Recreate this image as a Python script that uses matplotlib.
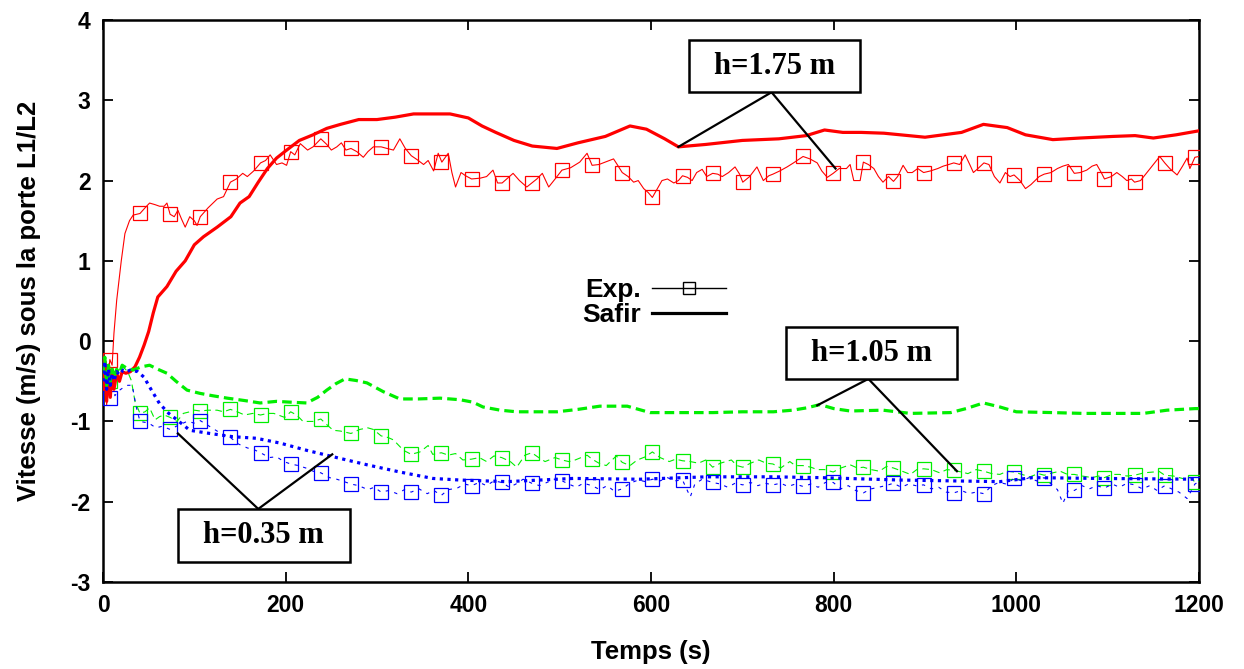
import matplotlib
matplotlib.use("Agg")
import matplotlib.pyplot as plt
from matplotlib.lines import Line2D
from matplotlib.patches import Rectangle

# ---------------- data ----------------
# Safir (simulation), h = 1.75 m
safir_175_t = [0, 2, 4, 6, 8, 10, 12, 15, 18, 21, 25, 30, 35, 40, 45, 50, 55, 60, 70, 80, 90, 100,
               110, 125, 140, 150, 160, 170, 180, 190, 200, 215, 230, 245, 260, 280, 300, 320, 340,
               360, 380, 400, 415, 430, 450, 470, 497, 520, 550, 577, 595, 615, 630, 660, 700, 740,
               770, 790, 810, 830, 855, 900, 940, 964, 990, 1010, 1040, 1070, 1106, 1130, 1150,
               1175, 1200]
safir_175_v = [-0.6, -0.25, -0.75, -0.3, -0.7, -0.35, -0.6, -0.4, -0.5, -0.38, -0.4, -0.38, -0.32,
               -0.2, -0.05, 0.12, 0.35, 0.55, 0.68, 0.87, 1.0, 1.2, 1.3, 1.42, 1.55, 1.72, 1.8, 1.98,
               2.15, 2.28, 2.37, 2.5, 2.57, 2.65, 2.7, 2.76, 2.76, 2.79, 2.83, 2.83, 2.83, 2.78, 2.68,
               2.6, 2.5, 2.43, 2.4, 2.47, 2.55, 2.68, 2.64, 2.52, 2.42, 2.45, 2.5, 2.52, 2.56, 2.63,
               2.6, 2.6, 2.59, 2.54, 2.6, 2.7, 2.66, 2.57, 2.51, 2.53, 2.55, 2.56, 2.53, 2.57, 2.62]

# Experiment, h = 1.75 m (continuous record)
exp_175_t = [0, 2, 4, 6, 7.5, 10, 12, 15, 20, 24, 29, 33, 40.5, 46, 51, 57, 62, 67, 70, 73.5, 78, 82,
             86, 90, 95, 100, 103, 106.5, 115, 125, 132, 139.5, 146, 153, 158, 165, 172.5, 178, 183,
             190, 196, 201, 205.5, 210, 216, 224, 230, 238.5, 245, 250, 256, 261, 266, 271.5, 278,
             285, 290, 296, 304.5, 311, 318, 325, 331, 337.5, 344, 351, 356, 362, 367, 371, 378, 382,
             386, 392, 397, 403.5, 413, 420, 427, 432, 437, 443, 449, 456, 464, 469.5, 475, 481, 488,
             495, 502.5, 512, 522, 530, 535.5, 543, 550, 559, 563, 568.5, 575, 581, 586, 592, 597,
             601.5, 607, 612, 618, 625, 630, 634.5, 640, 645, 650, 656, 661, 667.5, 673, 678, 685,
             692, 697, 700.5, 708, 716, 723, 729, 733.5, 741, 749, 756, 766.5, 774, 782, 787, 793,
             799.5, 806, 814, 818, 822, 829, 832.5, 838, 844, 849, 854, 860, 865.5, 870, 876, 881,
             886, 892, 898.5, 906, 914, 920, 926, 931.5, 938, 944, 949, 953, 958, 964.5, 970, 976,
             982, 988, 993, 997.5, 1004, 1010, 1016, 1025, 1030.5, 1038, 1045, 1051, 1057, 1063.5,
             1070, 1077, 1083, 1088, 1093, 1096.5, 1104, 1110, 1116, 1121, 1126, 1129.5, 1136, 1143,
             1150, 1157, 1162.5, 1168, 1176, 1182, 1187, 1190, 1195.5, 1200]
exp_175_v = [-0.6, -0.3, -0.8, -0.4, -0.23, -0.3, 0.1, 0.51, 1.0, 1.34, 1.5, 1.57, 1.59, 1.66, 1.72,
             1.7, 1.68, 1.68, 1.72, 1.58, 1.55, 1.63, 1.52, 1.42, 1.55, 1.5, 1.44, 1.55, 1.66, 1.77,
             1.8, 1.98, 2.02, 2.09, 2.05, 2.12, 2.22, 2.25, 2.32, 2.2, 2.22, 2.19, 2.36, 2.32, 2.46,
             2.38, 2.42, 2.52, 2.45, 2.38, 2.42, 2.47, 2.38, 2.4, 2.36, 2.29, 2.36, 2.42, 2.42, 2.4,
             2.38, 2.52, 2.4, 2.31, 2.26, 2.2, 2.25, 2.12, 2.34, 2.23, 2.34, 2.1, 1.92, 2.1, 2.06,
             2.02, 2.03, 2.05, 2.13, 1.97, 1.97, 2.03, 2.09, 2.0, 1.92, 1.97, 2.02, 2.09, 1.92, 2.02,
             2.13, 2.16, 2.23, 2.34, 2.19, 2.2, 2.23, 2.27, 2.2, 2.1, 2.05, 1.98, 2.0, 1.9, 1.85,
             1.79, 1.9, 2.0, 2.02, 1.97, 2.0, 2.06, 2.04, 2.0, 2.1, 2.14, 2.05, 2.09, 2.08, 2.05, 2.1,
             2.17, 2.08, 1.98, 2.05, 2.17, 2.0, 2.06, 2.08, 2.12, 2.17, 2.22, 2.3, 2.27, 2.22, 2.12,
             2.04, 2.09, 2.15, 2.15, 2.2, 2.0, 2.0, 2.23, 2.2, 2.15, 2.05, 1.98, 2.05, 1.99, 2.05,
             2.19, 2.1, 2.1, 2.15, 2.1, 2.12, 2.15, 2.18, 2.2, 2.22, 2.2, 2.32, 2.2, 2.1, 2.15, 2.22,
             2.2, 2.05, 1.97, 2.1, 2.05, 2.07, 2.0, 1.9, 1.95, 2.05, 2.08, 2.1, 2.15, 2.18, 2.2, 2.09,
             2.1, 2.13, 2.18, 2.2, 2.1, 2.02, 2.05, 2.1, 2.05, 2.0, 2.02, 1.98, 2.0, 2.1, 2.2, 2.3,
             2.22, 2.15, 2.07, 2.18, 2.28, 2.15, 2.29, 2.3]

# Experimental sample times carrying a marker (common to the three heights)
mark_t = [7.5, 40.5, 73.5, 106.5, 139.5, 172.5, 205.5, 238.5, 271.5, 304.5, 337.5, 370.5, 403.5,
          436.5, 469.5, 502.5, 535.5, 568.5, 601.5, 634.5, 667.5, 700.5, 733.5, 766.5, 799.5, 832.5,
          865.5, 898.5, 931.5, 964.5, 997.5, 1030.5, 1063.5, 1096.5, 1129.5, 1162.5, 1195.5]
mark_175_v = [-0.23, 1.59, 1.58, 1.55, 1.98, 2.22, 2.36, 2.52, 2.4, 2.42, 2.31, 2.23, 2.02, 1.97,
              1.97, 2.13, 2.19, 2.1, 1.79, 2.06, 2.09, 1.98, 2.08, 2.3, 2.09, 2.23, 1.99, 2.1, 2.22,
              2.22, 2.07, 2.08, 2.09, 2.02, 1.98, 2.22, 2.29]

# Safir, h = 1.05 m
safir_105_t = [0, 2, 4, 6, 8, 10, 12, 15, 18, 21, 25, 33, 42, 51, 60, 70, 80, 92, 106, 120, 136, 155,
               172, 190, 205, 223, 235, 245, 255, 265, 277, 289, 307, 325, 345, 369, 391, 405, 416,
               435, 453, 475, 497, 520, 544, 574, 599, 630, 668, 700, 734, 755, 771, 785, 800, 818,
               854, 884, 928, 945, 964, 982, 1000, 1040, 1073, 1110, 1139, 1165, 1196, 1200]
safir_105_v = [-0.4, -0.2, -0.55, -0.3, -0.5, -0.35, -0.45, -0.35, -0.4, -0.3, -0.33, -0.36, -0.32,
               -0.3, -0.35, -0.4, -0.5, -0.61, -0.65, -0.68, -0.71, -0.74, -0.77, -0.75, -0.76,
               -0.77, -0.7, -0.61, -0.53, -0.47, -0.49, -0.52, -0.63, -0.72, -0.72, -0.71, -0.73,
               -0.76, -0.82, -0.86, -0.88, -0.88, -0.88, -0.85, -0.81, -0.81, -0.89, -0.89, -0.89,
               -0.88, -0.88, -0.86, -0.83, -0.79, -0.84, -0.87, -0.86, -0.9, -0.89, -0.84, -0.77,
               -0.82, -0.88, -0.89, -0.9, -0.9, -0.9, -0.86, -0.84, -0.84]

exp_105_t = [0, 3, 5, 8, 11, 14, 18, 22, 27, 31, 35, 40.5, 46, 51, 57, 62, 67, 73.5, 81, 88, 95, 100,
             106.5, 115, 125, 132, 139.5, 147, 155, 164, 172.5, 180, 187, 199, 205.5, 212, 219, 230,
             238.5, 246, 252, 260, 271.5, 281, 290, 296, 304.5, 312, 318, 329, 337.5, 347, 356, 361,
             370.5, 378, 386, 394, 403.5, 412, 420, 428, 436.5, 446, 453, 462, 469.5, 477, 484, 495,
             502.5, 510, 517, 530, 535.5, 543, 551, 562, 568.5, 577, 585, 594, 601.5, 610, 620, 627,
             634.5, 643, 652, 660, 667.5, 676, 688, 694, 700.5, 709, 718, 726, 733.5, 742, 752, 758,
             766.5, 775, 782, 790, 799.5, 808, 818, 826, 832.5, 841, 850, 858, 865.5, 875, 884, 891,
             898.5, 907, 916, 924, 931.5, 940, 947, 956, 964.5, 973, 982, 990, 997.5, 1006, 1015,
             1024, 1030.5, 1040, 1048, 1056, 1063.5, 1072, 1083, 1090, 1096.5, 1105, 1113, 1121,
             1129.5, 1140, 1150, 1156, 1162.5, 1172, 1185, 1192, 1195.5, 1200]
exp_105_v = [-0.3, -0.55, -0.3, -0.5, -0.35, -0.45, -0.35, -0.32, -0.38, -0.49, -0.75, -0.9, -0.88,
             -0.83, -0.98, -0.94, -0.92, -0.95, -1.0, -0.9, -0.88, -0.86, -0.87, -0.86, -0.86,
             -0.88, -0.85, -0.88, -0.92, -0.9, -0.92, -0.9, -0.9, -0.95, -0.88, -0.92, -1.0, -1.0,
             -0.97, -1.05, -1.11, -1.12, -1.15, -1.1, -1.08, -1.1, -1.18, -1.2, -1.23, -1.36, -1.41,
             -1.38, -1.3, -1.41, -1.39, -1.42, -1.4, -1.48, -1.47, -1.45, -1.5, -1.43, -1.45, -1.5,
             -1.57, -1.42, -1.39, -1.45, -1.5, -1.45, -1.48, -1.5, -1.48, -1.42, -1.47, -1.52,
             -1.55, -1.43, -1.51, -1.55, -1.48, -1.44, -1.38, -1.45, -1.5, -1.47, -1.49, -1.5,
             -1.52, -1.48, -1.57, -1.52, -1.48, -1.55, -1.57, -1.52, -1.48, -1.52, -1.53, -1.58,
             -1.5, -1.55, -1.55, -1.57, -1.6, -1.6, -1.63, -1.58, -1.54, -1.58, -1.57, -1.6, -1.62,
             -1.56, -1.58, -1.62, -1.66, -1.6, -1.59, -1.6, -1.64, -1.6, -1.61, -1.63, -1.65, -1.6,
             -1.62, -1.65, -1.66, -1.62, -1.63, -1.66, -1.69, -1.65, -1.67, -1.64, -1.62, -1.66,
             -1.66, -1.68, -1.7, -1.68, -1.7, -1.66, -1.66, -1.68, -1.67, -1.64, -1.63, -1.62,
             -1.67, -1.68, -1.72, -1.7, -1.76, -1.74]
mark_105_v = [-0.5, -0.9, -0.95, -0.87, -0.85, -0.92, -0.88, -0.97, -1.15, -1.18, -1.41, -1.39,
              -1.47, -1.45, -1.39, -1.48, -1.47, -1.51, -1.38, -1.49, -1.57, -1.57, -1.53, -1.55,
              -1.63, -1.57, -1.58, -1.59, -1.61, -1.62, -1.63, -1.67, -1.66, -1.7, -1.67, -1.67,
              -1.76]

# Safir, h = 0.35 m
safir_035_t = [0, 2, 4, 6, 8, 10, 12, 15, 18, 22, 26, 30, 38, 45, 51, 62, 72, 81, 95, 117, 142, 168,
               194, 223, 252, 289, 325, 361, 391, 442, 515, 588, 661, 734, 785, 873, 982, 1018, 1091,
               1200]
safir_035_v = [-0.5, -0.25, -0.6, -0.35, -0.55, -0.4, -0.5, -0.38, -0.42, -0.36, -0.38, -0.36,
               -0.38, -0.45, -0.57, -0.78, -0.9, -0.98, -1.11, -1.15, -1.19, -1.21, -1.27, -1.36,
               -1.44, -1.54, -1.63, -1.71, -1.73, -1.75, -1.71, -1.72, -1.69, -1.69, -1.7, -1.73,
               -1.75, -1.7, -1.71, -1.72]

exp_035_t = [0, 3, 5, 7.5, 10, 13, 17, 22, 27, 32, 36, 40.5, 50, 58, 65, 73.5, 82, 92, 100, 106.5,
             115, 125, 132, 139.5, 148, 158, 165, 172.5, 182, 190, 198, 205.5, 214, 222, 230, 238.5,
             248, 256, 264, 271.5, 280, 290, 297, 304.5, 313, 322, 330, 337.5, 346, 355, 362, 370.5,
             378, 388, 396, 403.5, 412, 420, 428, 436.5, 445, 452, 460, 469.5, 478, 486, 494, 502.5,
             510, 518, 526, 535.5, 544, 552, 560, 568.5, 577, 586, 594, 601.5, 610, 618, 626, 634.5,
             643, 648, 656, 667.5, 676, 684, 692, 700.5, 709, 717, 725, 733.5, 742, 750, 758, 766.5,
             775, 783, 791, 799.5, 808, 816, 824, 832.5, 841, 849, 857, 865.5, 874, 882, 890, 898.5,
             907, 915, 923, 931.5, 940, 948, 956, 964.5, 973, 981, 989, 997.5, 1006, 1014, 1022,
             1030.5, 1038, 1045, 1051, 1057, 1063.5, 1072, 1080, 1088, 1096.5, 1105, 1113, 1121,
             1129.5, 1138, 1146, 1154, 1162.5, 1170, 1178, 1187, 1195.5, 1200]
exp_035_v = [-0.35, -0.7, -0.4, -0.71, -0.45, -0.68, -0.62, -0.58, -0.55, -0.55, -0.8, -1.0, -1.02,
             -1.08, -1.06, -1.1, -1.05, -1.0, -1.02, -0.99, -1.05, -1.12, -1.17, -1.2, -1.28, -1.33,
             -1.35, -1.39, -1.45, -1.44, -1.5, -1.53, -1.55, -1.58, -1.62, -1.64, -1.7, -1.72, -1.75,
             -1.78, -1.8, -1.85, -1.82, -1.88, -1.86, -1.9, -1.85, -1.88, -1.84, -1.9, -1.86, -1.92,
             -1.85, -1.83, -1.78, -1.8, -1.76, -1.8, -1.74, -1.76, -1.82, -1.78, -1.72, -1.77, -1.8,
             -1.76, -1.72, -1.74, -1.78, -1.82, -1.77, -1.8, -1.85, -1.8, -1.87, -1.84, -1.77, -1.73,
             -1.75, -1.72, -1.74, -1.7, -1.74, -1.73, -1.94, -1.78, -1.72, -1.76, -1.78, -1.82,
             -1.77, -1.79, -1.76, -1.8, -1.77, -1.79, -1.77, -1.81, -1.78, -1.81, -1.78, -1.82,
             -1.76, -1.76, -1.84, -1.8, -1.86, -1.89, -1.84, -1.82, -1.8, -1.77, -1.82, -1.78, -1.8,
             -1.79, -1.84, -1.82, -1.88, -1.89, -1.86, -1.9, -1.88, -1.9, -1.8, -1.76, -1.78, -1.71,
             -1.74, -1.7, -1.74, -1.7, -1.78, -1.85, -2.02, -1.86, -1.86, -1.8, -1.84, -1.8, -1.83,
             -1.78, -1.82, -1.77, -1.79, -1.84, -1.8, -1.86, -1.8, -1.84, -1.88, -1.96, -1.78, -1.75]
mark_035_v = [-0.71, -1.0, -1.1, -0.99, -1.2, -1.39, -1.53, -1.64, -1.78, -1.88, -1.88, -1.92,
              -1.8, -1.76, -1.77, -1.74, -1.8, -1.84, -1.72, -1.73, -1.76, -1.79, -1.79, -1.81,
              -1.76, -1.89, -1.77, -1.79, -1.89, -1.9, -1.71, -1.7, -1.86, -1.83, -1.79, -1.8,
              -1.78]

x_ticks = [0, 200, 400, 600, 800, 1000, 1200]
y_ticks = [-3, -2, -1, 0, 1, 2, 3, 4]
labels = ["h=1.75 m", "h=1.05 m", "h=0.35 m"]
legend_labels = ["Exp.", "Safir"]

# ---------------- style ----------------
RED, GREEN, BLUE = "#ff0000", "#00ee00", "#0000ff"
SANS = ["Liberation Sans", "DejaVu Sans"]
SERIF = ["Liberation Serif", "DejaVu Serif"]
plt.rcParams["font.family"] = SANS
plt.rcParams["font.weight"] = "bold"
plt.rcParams["axes.unicode_minus"] = False

fig = plt.figure(figsize=(12.44, 6.69), dpi=100)
ax = fig.add_axes([103 / 1244, 87 / 669, 1096 / 1244, 562 / 669])

thin = 0.8
thick = 2.3
ms = 9.5

# h = 1.75
ax.plot(exp_175_t, exp_175_v, color=RED, lw=thin, zorder=3)
ax.plot(mark_t, mark_175_v, ls="none", marker="s", ms=ms, mfc="none", mec=RED, mew=0.9, zorder=3)
ax.plot(safir_175_t, safir_175_v, color=RED, lw=thick, zorder=4)
# h = 1.05
ax.plot(exp_105_t, exp_105_v, color=GREEN, lw=thin, ls=(0, (6, 4)), zorder=3)
ax.plot(mark_t, mark_105_v, ls="none", marker="s", ms=ms, mfc="none", mec=GREEN, mew=0.9, zorder=3)
ax.plot(safir_105_t, safir_105_v, color=GREEN, lw=thick, ls=(0, (3, 1.6)), zorder=4)
# h = 0.35
ax.plot(exp_035_t, exp_035_v, color=BLUE, lw=thin, ls=(0, (3, 5)), zorder=3)
ax.plot(mark_t, mark_035_v, ls="none", marker="s", ms=ms, mfc="none", mec=BLUE, mew=0.9, zorder=3)
ax.plot(safir_035_t, safir_035_v, color=BLUE, lw=thick, ls=(0, (1, 1.4)), zorder=4)

ax.set_xlim(0, 1200)
ax.set_ylim(-3, 4)
ax.set_xticks(x_ticks)
ax.set_yticks(y_ticks)
ax.tick_params(direction="in", length=7, width=1.3, top=True, right=True,
               labelsize=16.5, pad=9)
for s in ax.spines.values():
    s.set_linewidth(1.8)
ax.set_xlabel("Temps (s)", fontsize=18.5, fontweight="bold", labelpad=16)
ax.set_ylabel("Vitesse (m/s) sous la porte L1/L2", fontsize=18.5, fontweight="bold", labelpad=21)

# legend (black proxies)
h_exp = Line2D([], [], color="black", lw=1.0, marker="s", ms=9, mfc="none", mec="black", mew=1.0)
h_saf = Line2D([], [], color="black", lw=2.3)
leg = ax.legend([h_exp, h_saf], legend_labels, loc="center", bbox_to_anchor=(0.503, 0.497),
                frameon=False, markerfirst=False, handlelength=2.8, handletextpad=0.4,
                labelspacing=0.05, numpoints=1, prop={"family": SANS, "weight": "bold", "size": 19})

# annotation boxes (data coordinates)
boxes = [
    # (x0, x1, y0, y1, apex, targets)
    (642, 829, 3.10, 3.75, (732, 3.10), [(630, 2.42), (802, 2.15)]),
    (748, 935, -0.47, 0.17, (838, -0.47), [(782, -0.80), (935, -1.62)]),
    (82, 270, -2.75, -2.09, (170, -2.09), [(82, -1.15), (251, -1.41)]),
]
for (x0, x1, y0, y1, apex, targets), lab in zip(boxes, labels):
    for tx, ty in targets:
        ax.plot([apex[0], tx], [apex[1], ty], color="black", lw=1.6, zorder=5, clip_on=False)
    ax.add_patch(Rectangle((x0, y0), x1 - x0, y1 - y0, facecolor="white", edgecolor="black",
                           lw=1.8, zorder=6, clip_on=False))
    ax.text((x0 + x1) / 2, (y0 + y1) / 2, lab, ha="center", va="center", fontsize=22,
            fontweight="bold", family=SERIF, zorder=7)

fig.savefig("out.png", dpi=100)
